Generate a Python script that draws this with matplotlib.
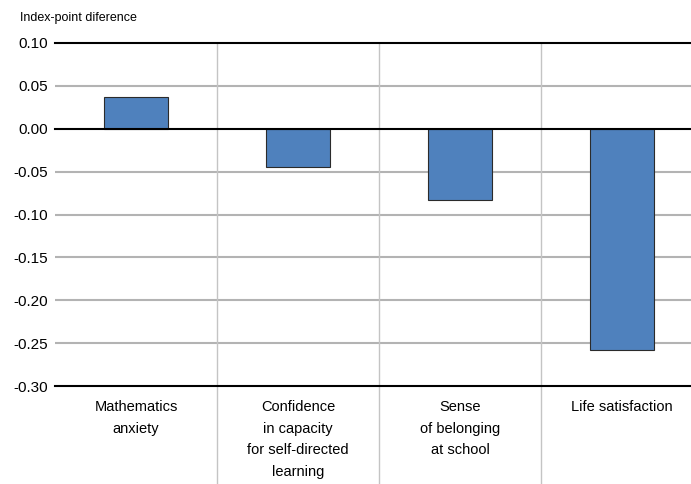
import matplotlib
matplotlib.use("Agg")
import matplotlib.pyplot as plt
import matplotlib.transforms as mtransforms

# --- DATA ---
categories = ["Mathematics\nanxiety",
              "Confidence\nin capacity\nfor self-directed\nlearning",
              "Sense\nof belonging\nat school",
              "Life satisfaction"]
differences = [0.037, -0.045, -0.083, -0.258]
y_ticks = [0.10, 0.05, 0.00, -0.05, -0.10, -0.15, -0.20, -0.25, -0.30]

BAR_COLOR = "#4F81BD"

plt.rcParams['font.family'] = ['Liberation Sans', 'DejaVu Sans']

fig = plt.figure(figsize=(6.91, 4.84), dpi=100)
ax = fig.add_axes([55 / 691, 98 / 484, 648 / 691, 343 / 484])

x = list(range(len(categories)))
ax.bar(x, differences, width=0.4, color=BAR_COLOR, edgecolor="#2b2b2b",
       linewidth=0.8, zorder=3)

ax.set_xlim(-0.5, len(categories) - 0.5)
ax.set_ylim(-0.30, 0.10)

# horizontal gridlines: black at top, zero and bottom, gray elsewhere
for v in y_ticks:
    if round(v, 2) in (0.10, 0.00, -0.30):
        ax.axhline(v, color="black", linewidth=1.5, zorder=4, clip_on=False)
    else:
        ax.axhline(v, color="#b3b3b3", linewidth=1.5, zorder=1)

# vertical separators between categories, running down through the labels
trans = mtransforms.blended_transform_factory(ax.transData, ax.transAxes)
for b in [i + 0.5 for i in x[:-1]]:
    ax.plot([b, b], [1, -0.32], color="#c4c4c4", linewidth=1.0,
            transform=trans, clip_on=False, zorder=1)

ax.set_yticks(y_ticks)
ax.set_yticklabels([f"{v:.2f}" for v in y_ticks], fontsize=11)
ax.set_xticks(x)
ax.set_xticklabels(categories, fontsize=10.5, linespacing=1.7, va="top")
ax.tick_params(axis="both", length=0)
ax.tick_params(axis="y", pad=5)
ax.tick_params(axis="x", pad=10)

for s in ax.spines.values():
    s.set_visible(False)

fig.text(20 / 691, 1 - 18 / 484, "Index-point diference", fontsize=9,
         ha="left", va="center")

fig.savefig("out.png", dpi=100)
